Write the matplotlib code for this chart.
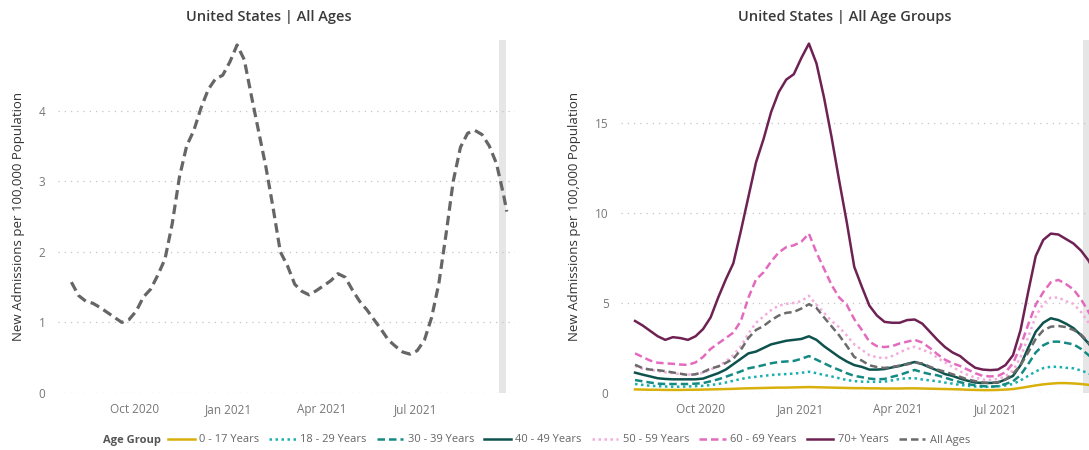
import pandas as pd
import matplotlib
matplotlib.use('Agg')
import matplotlib.pyplot as plt

plt.rcParams['font.family'] = ['Open Sans', 'DejaVu Sans']

# weekly points from Aug 1 2020, plus the last day shown
dates = list(pd.date_range('2020-08-01', periods=61, freq='7D')) + [pd.Timestamp('2021-09-28')]

all_ages = [1.57, 1.38, 1.30, 1.27, 1.21, 1.14, 1.07, 1.00, 1.04, 1.16,
            1.36, 1.47, 1.67, 1.90, 2.40, 3.06, 3.50, 3.72, 4.04, 4.30,
            4.45, 4.50, 4.69, 4.93, 4.72, 4.20, 3.70, 3.20, 2.62, 2.00,
            1.80, 1.54, 1.44, 1.39, 1.45, 1.52, 1.59, 1.69, 1.64, 1.46,
            1.30, 1.18, 1.04, 0.90, 0.75, 0.66, 0.58, 0.55, 0.60, 0.75,
            1.07, 1.55, 2.25, 3.00, 3.48, 3.68, 3.72, 3.66, 3.50, 3.25,
            2.80, 2.57]

age_0_17 = [0.20, 0.19, 0.18, 0.18, 0.17, 0.17, 0.17, 0.18, 0.18, 0.19,
            0.20, 0.21, 0.22, 0.23, 0.25, 0.26, 0.27, 0.28, 0.29, 0.30,
            0.30, 0.31, 0.32, 0.33, 0.32, 0.31, 0.30, 0.29, 0.28, 0.27,
            0.27, 0.26, 0.26, 0.25, 0.25, 0.25, 0.26, 0.26, 0.25, 0.24,
            0.23, 0.22, 0.21, 0.20, 0.18, 0.17, 0.16, 0.16, 0.17, 0.19,
            0.22, 0.28, 0.35, 0.42, 0.48, 0.52, 0.55, 0.55, 0.53, 0.50,
            0.45, 0.42]

age_18_29 = [0.50, 0.45, 0.40, 0.38, 0.36, 0.35, 0.35, 0.36, 0.38, 0.40,
             0.44, 0.50, 0.58, 0.68, 0.78, 0.85, 0.90, 0.95, 1.00, 1.03,
             1.05, 1.08, 1.12, 1.18, 1.10, 1.00, 0.92, 0.82, 0.72, 0.66,
             0.63, 0.62, 0.62, 0.63, 0.70, 0.78, 0.82, 0.82, 0.75, 0.70,
             0.65, 0.58, 0.52, 0.45, 0.40, 0.36, 0.34, 0.35, 0.37, 0.42,
             0.50, 0.70, 0.95, 1.20, 1.38, 1.46, 1.45, 1.40, 1.37, 1.25,
             1.09, 1.00]

age_30_39 = [0.72, 0.65, 0.58, 0.52, 0.50, 0.50, 0.50, 0.50, 0.52, 0.55,
             0.65, 0.76, 0.90, 1.05, 1.20, 1.37, 1.45, 1.55, 1.65, 1.72,
             1.75, 1.78, 1.90, 2.05, 1.85, 1.65, 1.45, 1.28, 1.10, 0.95,
             0.88, 0.80, 0.76, 0.78, 0.90, 1.00, 1.15, 1.28, 1.15, 1.05,
             0.98, 0.85, 0.72, 0.60, 0.50, 0.42, 0.38, 0.35, 0.38, 0.50,
             0.65, 1.00, 1.60, 2.25, 2.65, 2.85, 2.85, 2.78, 2.70, 2.45,
             2.10, 1.95]

age_40_49 = [1.13, 1.02, 0.92, 0.82, 0.78, 0.76, 0.76, 0.76, 0.76, 0.80,
             0.95, 1.10, 1.30, 1.60, 1.90, 2.20, 2.30, 2.50, 2.70, 2.80,
             2.90, 2.95, 3.00, 3.15, 2.95, 2.60, 2.30, 2.00, 1.75, 1.55,
             1.45, 1.30, 1.30, 1.33, 1.42, 1.50, 1.62, 1.72, 1.60, 1.42,
             1.25, 1.05, 0.95, 0.80, 0.68, 0.58, 0.56, 0.56, 0.58, 0.75,
             0.95, 1.55, 2.50, 3.40, 3.90, 4.15, 4.05, 3.85, 3.60, 3.20,
             2.75, 2.50]

age_50_59 = [1.50, 1.35, 1.28, 1.22, 1.15, 1.10, 1.05, 1.02, 1.05, 1.12,
             1.30, 1.50, 1.75, 2.10, 2.60, 3.30, 3.90, 4.25, 4.60, 4.85,
             4.95, 5.00, 5.10, 5.40, 4.90, 4.45, 4.00, 3.65, 3.20, 2.70,
             2.40, 2.10, 1.98, 1.93, 2.05, 2.25, 2.45, 2.57, 2.40, 2.25,
             1.95, 1.70, 1.45, 1.20, 1.00, 0.85, 0.75, 0.72, 0.78, 0.92,
             1.25, 2.00, 3.10, 4.25, 4.95, 5.30, 5.30, 5.10, 4.95, 4.50,
             3.90, 3.60]

age_60_69 = [2.20, 2.00, 1.80, 1.68, 1.65, 1.62, 1.58, 1.56, 1.70, 2.00,
             2.45, 2.75, 3.05, 3.35, 4.00, 5.30, 6.30, 6.70, 7.30, 7.80,
             8.10, 8.20, 8.40, 8.85, 7.80, 6.90, 6.00, 5.30, 4.90, 4.10,
             3.50, 2.85, 2.60, 2.55, 2.60, 2.75, 2.85, 2.95, 2.80, 2.50,
             2.15, 1.85, 1.65, 1.50, 1.30, 1.10, 0.95, 0.92, 0.95, 1.15,
             1.65, 2.60, 3.80, 4.90, 5.60, 6.15, 6.28, 6.05, 5.75, 5.20,
             4.50, 4.20]

age_70 = [4.00, 3.75, 3.45, 3.15, 2.95, 3.10, 3.05, 2.95, 3.15, 3.55,
          4.20, 5.30, 6.30, 7.20, 9.00, 10.90, 12.80, 14.10, 15.60, 16.70,
          17.40, 17.70, 18.60, 19.40, 18.30, 16.40, 14.20, 11.80, 9.50, 7.00,
          5.90, 4.85, 4.30, 3.95, 3.90, 3.90, 4.05, 4.08, 3.85, 3.40,
          2.95, 2.55, 2.25, 2.05, 1.70, 1.40, 1.30, 1.27, 1.30, 1.55,
          2.10, 3.50, 5.60, 7.60, 8.50, 8.85, 8.80, 8.55, 8.30, 7.90,
          7.35, 7.00]

tick_dates = pd.to_datetime(['2020-10-01', '2021-01-01', '2021-04-01', '2021-07-01'])
tick_labels = ['Oct 2020', 'Jan 2021', 'Apr 2021', 'Jul 2021']

dash = (0, (3, 1.6))
dots = (0, (1, 1.4))
series = [
    ('0 - 17 Years', age_0_17, '#D8B00C', '-'),
    ('18 - 29 Years', age_18_29, '#1AAFB0', dots),
    ('30 - 39 Years', age_30_39, '#148A83', dash),
    ('40 - 49 Years', age_40_49, '#0D524D', '-'),
    ('50 - 59 Years', age_50_59, '#F2ACDD', dots),
    ('60 - 69 Years', age_60_69, '#E36BBF', dash),
    ('70+ Years', age_70, '#6E2253', '-'),
    ('All Ages', all_ages, '#6B6B6B', dash),
]

fig = plt.figure(figsize=(10.89, 4.5), dpi=100)
ax1 = fig.add_axes([58/1089, 1-393/450, 457/1089, 353/450])
ax2 = fig.add_axes([621/1089, 1-393/450, 479.5/1089, 353/450])

x0, x1 = pd.Timestamp('2020-07-19'), pd.Timestamp('2021-10-06')
for ax in (ax1, ax2):
    ax.set_xlim(x0, x1)
    ax.axvspan(pd.Timestamp('2021-09-20'), pd.Timestamp('2021-09-27'), color='#e6e6e6', lw=0, zorder=0.5)
    ax.set_xticks(tick_dates)
    ax.set_xticklabels(tick_labels)
    ax.tick_params(length=0, colors='#777777', labelsize=8.5)
    ax.tick_params(axis='x', pad=7)
    ax.tick_params(axis='y', pad=9)
    ax.yaxis.grid(True, linestyle=(0, (1, 4)), color='#c4c4c4', lw=0.9)
    ax.set_axisbelow(True)
    for s in ax.spines.values():
        s.set_visible(False)
    ax.set_ylabel('New Admissions per 100,000 Population', fontsize=9.5, color='#333333', labelpad=10)

# left: all ages
ax1.plot(dates, all_ages, color='#666666', lw=2.3, linestyle=dash)
ax1.set_ylim(0, 5.0)
ax1.set_yticks([0, 1, 2, 3, 4])

# right: by age group
for name, vals, col, ls in series:
    ax2.plot(dates, vals, color=col, lw=1.8, linestyle=ls, label=name)
ax2.set_ylim(0, 19.6)
ax2.set_yticks([0, 5, 10, 15])

fig.text(269/1089, 1-17/450, 'United States | All Ages', ha='center', va='center',
         fontsize=10.5, fontweight='semibold', color='#3a3a3a')
fig.text(845/1089, 1-17/450, 'United States | All Age Groups', ha='center', va='center',
         fontsize=10.5, fontweight='semibold', color='#3a3a3a')

fig.text(103/1089, 1-440/450, 'Age Group', ha='left', va='center',
         fontsize=8, fontweight='bold', color='#555555')
handles, labels = ax2.get_legend_handles_labels()
leg = fig.legend(handles, labels, loc='center left', bbox_to_anchor=(168/1089, 1-440/450),
                 ncol=8, frameon=False, fontsize=8, handlelength=2.4, handletextpad=0.4,
                 columnspacing=0.9, borderpad=0, borderaxespad=0)
for t in leg.get_texts():
    t.set_color('#666666')

fig.savefig('out.png', dpi=100)
